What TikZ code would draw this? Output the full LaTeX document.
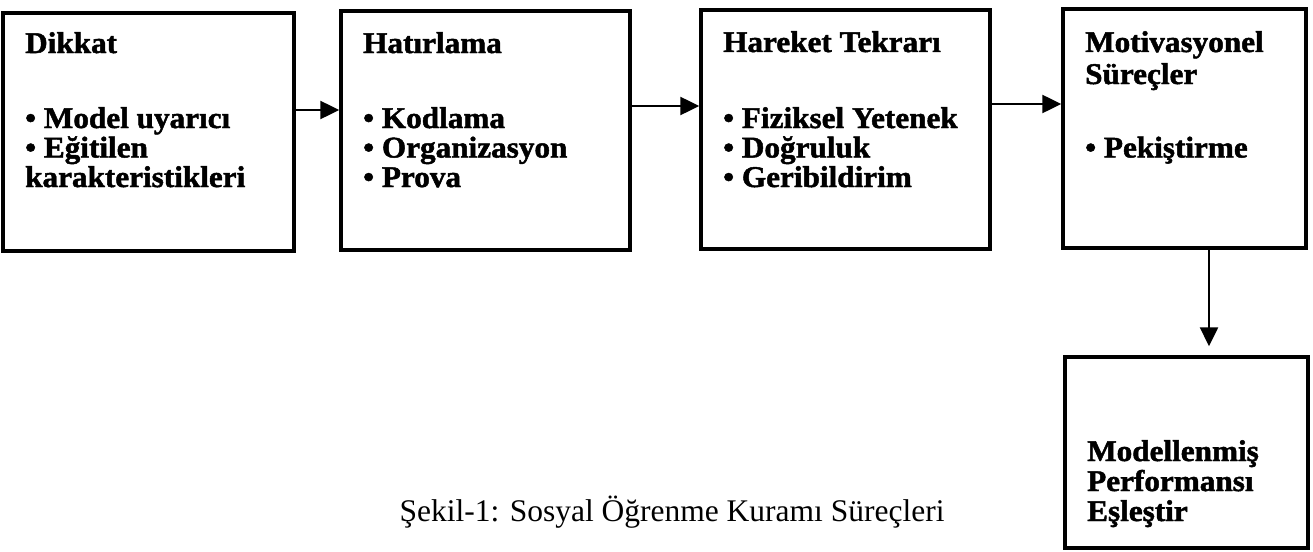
\documentclass[tikz,border=0pt]{standalone}
\usepackage{fontspec}
\setmainfont{Liberation Serif}
\newfontfamily\boxfont{Liberation Serif}[FakeStretch=1.04, BoldFeatures={FakeBold=1.6}]
\usetikzlibrary{arrows.meta}
\begin{document}
\begin{tikzpicture}[x=1pt,y=-1pt,
  box/.style={draw, line width=3.5pt, inner sep=0pt},
  txt/.style={font=\boxfont\bfseries\fontsize{30}{30}\selectfont, anchor=base west, inner sep=0pt},
  arr/.style={line width=2.5pt, -{Triangle[length=19pt,width=18pt]}},
  captxt/.style={font=\fontsize{31.5}{36}\selectfont, anchor=base, inner sep=0pt}]
\useasboundingbox[fill=white] (0,0) rectangle (1313,551);
% boxes
\node[box, minimum width=291pt, minimum height=238pt] (b1) at (148.5,132) {};
\node[box, minimum width=289pt, minimum height=239pt] (b2) at (485.5,130.5) {};
\node[box, minimum width=289pt, minimum height=239pt] (b3) at (845.5,129.5) {};
\node[box, minimum width=243pt, minimum height=239pt] (b4) at (1184.5,128.5) {};
\node[box, minimum width=243pt, minimum height=191pt] (b5) at (1186.5,452.5) {};
% box 1 text
\node[txt] (t1h) at (25,53) {Dikkat};
\node[txt] (t1a) at (25,128) {• Model uyarıcı};
\node[txt] (t1b) at (25,157.5) {• Eğitilen};
\node[txt] (t1c) at (25,187) {karakteristikleri};
% box 2 text
\node[txt] (t2h) at (363,53) {Hatırlama};
\node[txt] (t2a) at (363,128) {• Kodlama};
\node[txt] (t2b) at (363,157.5) {• Organizasyon};
\node[txt] (t2c) at (363,187) {• Prova};
% box 3 text
\node[txt] (t3h) at (723,52) {Hareket Tekrarı};
\node[txt] (t3a) at (723,128) {• Fiziksel Yetenek};
\node[txt] (t3b) at (723,157.5) {• Doğruluk};
\node[txt] (t3c) at (723,187) {• Geribildirim};
% box 4 text
\node[txt] (t4h) at (1085,52) {Motivasyonel};
\node[txt] (t4i) at (1085,84) {Süreçler};
\node[txt] (t4a) at (1085,157.5) {• Pekiştirme};
% box 5 text
\node[txt] (t5a) at (1087,461) {Modellenmiş};
\node[txt] (t5b) at (1087,491) {Performansı};
\node[txt] (t5c) at (1087,521) {Eşleştir};
% connectors
\draw[arr] (b1.east |- 0,110) -- (b2.west |- 0,110);
\draw[arr] (b2.east |- 0,106) -- (b3.west |- 0,106);
\draw[arr] (b3.east |- 0,104) -- (b4.west |- 0,104);
\coordinate (vx) at (1209,0);
\draw[arr, shorten >=9pt] (b4.south -| vx) -- (b5.north -| vx);
% caption
\node[captxt] (cap) at (672,521) {Şekil-1: Sosyal Öğrenme Kuramı Süreçleri};
\end{tikzpicture}
\end{document}
